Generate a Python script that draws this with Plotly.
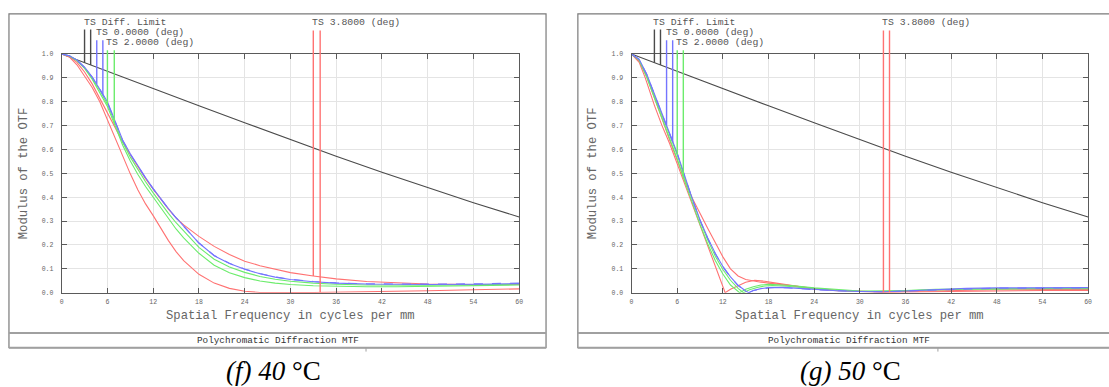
import numpy as np
import plotly.graph_objects as go

W, H = 1109, 387

# ---------------- data ----------------
X_TICKS = [0, 6, 12, 18, 24, 30, 36, 42, 48, 54, 60]
Y_TICKS = [0.0, 0.1, 0.2, 0.3, 0.4, 0.5, 0.6, 0.7, 0.8, 0.9, 1.0]
Y_TICK_TEXT = ["0.0", "0.1", "0.2", "0.3", "0.4", "0.5", "0.6", "0.7", "0.8", "0.9", "1.0"]

# diffraction limit (same in both panels)
DIFF_X = [0, 6, 12, 18, 24, 30, 36, 42, 48, 54, 60]
DIFF_Y = [1.0, 0.927, 0.855, 0.783, 0.712, 0.641, 0.572, 0.505, 0.440, 0.377, 0.317]

# (f) 40 °C
F_FREQ = [0, 1, 2, 3, 4, 5, 6, 7, 8, 9, 10, 11, 12, 13, 14, 15, 16, 18, 20, 22, 24,
          26, 28, 30, 33, 36, 40, 44, 48, 54, 60]
F_BLUE_T = [1.0, 0.993, 0.975, 0.945, 0.905, 0.855, 0.80, 0.72, 0.64, 0.582, 0.53, 0.482,
            0.436, 0.393, 0.352, 0.314, 0.28, 0.208, 0.155, 0.122, 0.098, 0.079, 0.065,
            0.055, 0.046, 0.04, 0.036, 0.034, 0.034, 0.035, 0.038]
F_BLUE_S = [1.0, 0.993, 0.975, 0.944, 0.903, 0.853, 0.797, 0.718, 0.638, 0.58, 0.528, 0.48,
            0.435, 0.392, 0.351, 0.313, 0.279, 0.208, 0.156, 0.123, 0.099, 0.08, 0.066,
            0.056, 0.047, 0.041, 0.037, 0.036, 0.036, 0.037, 0.04]
F_GREEN_T = [1.0, 0.993, 0.974, 0.943, 0.9, 0.848, 0.79, 0.71, 0.63, 0.568, 0.515, 0.465,
             0.418, 0.373, 0.332, 0.293, 0.258, 0.19, 0.14, 0.108, 0.085, 0.068, 0.056,
             0.048, 0.04, 0.035, 0.032, 0.031, 0.031, 0.033, 0.036]
F_GREEN_S = [1.0, 0.992, 0.972, 0.94, 0.895, 0.84, 0.78, 0.70, 0.618, 0.552, 0.495, 0.445,
             0.40, 0.352, 0.308, 0.267, 0.23, 0.165, 0.115, 0.083, 0.063, 0.049, 0.04,
             0.034, 0.029, 0.026, 0.025, 0.025, 0.026, 0.029, 0.032]
F_RED_T = [1.0, 0.99, 0.965, 0.925, 0.875, 0.815, 0.75, 0.69, 0.632, 0.578, 0.526, 0.478,
           0.434, 0.39, 0.35, 0.313, 0.284, 0.236, 0.194, 0.16, 0.132, 0.113, 0.097,
           0.084, 0.07, 0.058, 0.047, 0.04, 0.036, 0.034, 0.034]
F_RED_S = [1.0, 0.988, 0.955, 0.91, 0.86, 0.8, 0.725, 0.648, 0.572, 0.498, 0.43, 0.372,
           0.323, 0.27, 0.218, 0.172, 0.134, 0.077, 0.04, 0.018, 0.006, 0.001, 0.0,
           0.0, 0.001, 0.002, 0.004, 0.006, 0.008, 0.012, 0.016]

# (g) 50 °C
G_BLUE_X = [0, 1, 2, 3, 4, 5, 6, 7, 8, 9, 10, 11, 12, 13, 14, 15, 15.4, 16, 17, 18, 19, 20,
            22, 24, 27, 30, 33, 36, 40, 44, 48, 54, 60]
G_BLUE_T = [1.0, 0.978, 0.915, 0.835, 0.752, 0.668, 0.585, 0.485, 0.392, 0.305, 0.23, 0.165,
            0.11, 0.066, 0.031, 0.007, 0.0, 0.009, 0.017, 0.021, 0.023, 0.022, 0.018, 0.013,
            0.008, 0.005, 0.004, 0.007, 0.013, 0.018, 0.02, 0.02, 0.021]
G_BLUE_S = [1.0, 0.978, 0.914, 0.834, 0.75, 0.666, 0.583, 0.483, 0.39, 0.303, 0.228, 0.163,
            0.108, 0.065, 0.03, 0.006, 0.0, 0.009, 0.016, 0.02, 0.022, 0.021, 0.017, 0.012,
            0.008, 0.005, 0.004, 0.007, 0.012, 0.017, 0.019, 0.019, 0.02]
G_GREEN_T_X = [0, 1, 2, 3, 4, 5, 6, 7, 8, 9, 10, 11, 12, 13, 14, 14.7, 15.5, 16.5, 17.5,
               18.5, 20, 22, 24, 27, 30, 33, 36, 40, 44, 48, 54, 60]
G_GREEN_T = [1.0, 0.976, 0.91, 0.828, 0.745, 0.66, 0.578, 0.48, 0.388, 0.3, 0.222, 0.153,
             0.097, 0.052, 0.018, 0.0, 0.012, 0.022, 0.028, 0.03, 0.028, 0.022, 0.015,
             0.009, 0.006, 0.006, 0.009, 0.014, 0.016, 0.017, 0.018, 0.018]
G_GREEN_S_X = [0, 1, 2, 3, 4, 5, 6, 7, 8, 9, 10, 11, 12, 13, 14.2, 15, 16, 17, 18, 19.5,
               21, 24, 27, 30, 33, 36, 40, 44, 48, 54, 60]
G_GREEN_S = [1.0, 0.974, 0.902, 0.818, 0.732, 0.645, 0.56, 0.465, 0.372, 0.285, 0.205,
             0.135, 0.078, 0.032, 0.0, 0.014, 0.025, 0.032, 0.035, 0.034, 0.03, 0.02, 0.012,
             0.007, 0.006, 0.009, 0.013, 0.015, 0.016, 0.017, 0.017]
G_RED_T_X = [0, 1, 2, 3, 4, 5, 6, 7, 8, 9, 10, 11, 12, 13, 14, 15, 16, 17, 18, 20, 22, 24,
             27, 30, 33, 36, 42, 48, 54, 60]
G_RED_T = [1.0, 0.97, 0.905, 0.82, 0.73, 0.64, 0.555, 0.47, 0.395, 0.33, 0.27, 0.21, 0.15,
           0.1, 0.07, 0.055, 0.048, 0.044, 0.04, 0.032, 0.024, 0.018, 0.01, 0.005, 0.003,
           0.005, 0.009, 0.012, 0.013, 0.013]
G_RED_S_X = [0, 1, 1.8, 3, 4, 5, 6, 7, 8, 9, 10, 11, 12, 12.3, 13, 14, 15, 16.2, 17.5, 19,
             21, 24, 27, 30, 33, 36, 42, 48, 54, 60]
G_RED_S = [1.0, 0.965, 0.9, 0.785, 0.70, 0.625, 0.54, 0.455, 0.37, 0.285, 0.2, 0.115, 0.03,
           0.0, 0.014, 0.03, 0.044, 0.052, 0.048, 0.04, 0.03, 0.016, 0.008, 0.004, 0.002,
           0.003, 0.006, 0.008, 0.009, 0.009]

# field-marker frequencies (T, S) per field
F_MARK_DIFF = [3.0, 3.8]
F_MARK_0 = [4.6, 5.4]
F_MARK_2 = [6.0, 6.9]
F_MARK_38 = [33.0, 33.9]
G_MARK_DIFF = [3.0, 3.8]
G_MARK_0 = [4.6, 5.4]
G_MARK_2 = [6.0, 6.8]
G_MARK_38 = [33.1, 33.9]

FIELD_LABELS = ["TS Diff. Limit", "TS 0.0000 (deg)", "TS 2.0000 (deg)", "TS 3.8000 (deg)"]
CAPTIONS = ["<i>(f) 40</i> °C", "<i>(g) 50</i> °C"]

# ---------------- styling / geometry ----------------
BLACK = "#4a4a4a"
BLUE = "#7474ff"
GREEN = "#6cec6c"
RED = "#ff7272"
MONO = "Liberation Mono, Courier New, monospace"
PLOT_TOP, PLOT_BOTTOM = 52, 295
EXT_TOP = 12
PANELS = [dict(x0=60, x1=520, frame=(7, 547), cap=273),
          dict(x0=633, x1=1092, frame=(579, 1125), cap=853)]
SCALE = PLOT_BOTTOM - PLOT_TOP          # pixels per unit modulus


def py(p):
    return 1 - p / H


def px(p):
    return p / W


def yval(p):
    # pixel row -> modulus value on the extended marker axis
    return (PLOT_BOTTOM - p) / SCALE


fig = go.Figure()

panel_data = [
    dict(curves=[(DIFF_X, DIFF_Y, BLACK, "solid"),
                 (F_FREQ, F_RED_S, RED, "solid"), (F_FREQ, F_RED_T, RED, "solid"),
                 (F_FREQ, F_GREEN_S, GREEN, "solid"), (F_FREQ, F_GREEN_T, GREEN, "solid"),
                 (F_FREQ, F_BLUE_T, BLUE, "solid"), (F_FREQ, F_BLUE_S, BLUE, "dash")],
         marks=[(F_MARK_DIFF, (DIFF_X, DIFF_Y), (DIFF_X, DIFF_Y), BLACK, 27),
                (F_MARK_0, (F_FREQ, F_BLUE_T), (F_FREQ, F_BLUE_S), BLUE, 38),
                (F_MARK_2, (F_FREQ, F_GREEN_T), (F_FREQ, F_GREEN_S), GREEN, 48),
                (F_MARK_38, (F_FREQ, F_RED_T), (F_FREQ, F_RED_S), RED, 28)]),
    dict(curves=[(DIFF_X, DIFF_Y, BLACK, "solid"),
                 (G_RED_S_X, G_RED_S, RED, "solid"), (G_RED_T_X, G_RED_T, RED, "solid"),
                 (G_GREEN_S_X, G_GREEN_S, GREEN, "solid"), (G_GREEN_T_X, G_GREEN_T, GREEN, "solid"),
                 (G_BLUE_X, G_BLUE_T, BLUE, "solid"), (G_BLUE_X, G_BLUE_S, BLUE, "dash")],
         marks=[(G_MARK_DIFF, (DIFF_X, DIFF_Y), (DIFF_X, DIFF_Y), BLACK, 27),
                (G_MARK_0, (G_BLUE_X, G_BLUE_T), (G_BLUE_X, G_BLUE_S), BLUE, 38),
                (G_MARK_2, (G_GREEN_T_X, G_GREEN_T), (G_GREEN_S_X, G_GREEN_S), GREEN, 48),
                (G_MARK_38, (G_RED_T_X, G_RED_T), (G_RED_S_X, G_RED_S), RED, 28)]),
]

label_rows = [20, 30, 40, 20]

annotations = []
shapes = []
layout_axes = {}
for i, (pan, pdat) in enumerate(zip(PANELS, panel_data)):
    xa, ya = ("x", "y") if i == 0 else ("x2", "y2")
    xe, ye = ("x3", "y3") if i == 0 else ("x4", "y4")
    for (cx, cy, col, dash) in pdat["curves"]:
        fig.add_trace(go.Scatter(x=cx, y=cy, mode="lines", xaxis=xa, yaxis=ya,
                                 line=dict(color=col, width=1.1, dash=dash),
                                 showlegend=False, hoverinfo="skip"))
    for k, (marks, tcurve, scurve, col, top_px) in enumerate(pdat["marks"]):
        for m, (cx, cy) in zip(marks, [tcurve, scurve]):
            y_end = float(np.interp(m, cx, cy))
            fig.add_trace(go.Scatter(x=[m, m], y=[y_end, yval(top_px)], mode="lines",
                                     xaxis=xe, yaxis=ye, line=dict(color=col, width=1.4),
                                     showlegend=False, hoverinfo="skip"))
        annotations.append(dict(x=marks[0] - 0.4, y=yval(label_rows[k]), xref=xe, yref=ye,
                                text=FIELD_LABELS[k], showarrow=False, xanchor="left",
                                yanchor="middle",
                                font=dict(family=MONO, size=9.8, color="#555")))
    # axes
    dom_x = [px(pan["x0"]), px(pan["x1"])]
    ax_common = dict(showline=True, linecolor="#5a5a5a", linewidth=1, mirror="ticks",
                     ticks="inside", ticklen=5, tickcolor="#5a5a5a", tickwidth=1,
                     showgrid=True, gridcolor="#e4e4e4", gridwidth=1, zeroline=False,
                     tickfont=dict(family=MONO, size=6.5, color="#666"), fixedrange=True)
    layout_axes["xaxis" if i == 0 else "xaxis2"] = dict(
        domain=dom_x, range=[0, 60], tickvals=X_TICKS, anchor=ya,
        ticklabelstandoff=3, **ax_common)
    layout_axes["yaxis" if i == 0 else "yaxis2"] = dict(
        domain=[py(PLOT_BOTTOM), py(PLOT_TOP)], range=[0, 1], tickvals=Y_TICKS,
        ticktext=Y_TICK_TEXT, anchor=xa, ticklabelstandoff=6, **ax_common)
    layout_axes["xaxis3" if i == 0 else "xaxis4"] = dict(
        domain=dom_x, range=[0, 60], anchor=ye, visible=False, fixedrange=True)
    layout_axes["yaxis3" if i == 0 else "yaxis4"] = dict(
        domain=[py(PLOT_BOTTOM), py(EXT_TOP)], range=[0, yval(EXT_TOP)], anchor=xe,
        visible=False, fixedrange=True)
    # axis titles
    annotations.append(dict(x=px((pan["x0"] + pan["x1"]) / 2), y=py(319), xref="paper",
                            yref="paper", text="Spatial Frequency in cycles per mm",
                            showarrow=False, xanchor="center", yanchor="middle",
                            font=dict(family=MONO, size=12.2, color="#666")))
    annotations.append(dict(x=px(pan["x0"] - 38), y=py((PLOT_TOP + PLOT_BOTTOM) / 2),
                            xref="paper", yref="paper", text="Modulus of the OTF",
                            textangle=-90, showarrow=False, xanchor="center",
                            yanchor="middle",
                            font=dict(family=MONO, size=12.2, color="#666")))
    fx0, fx1 = pan["frame"]
    annotations.append(dict(x=px((fx0 + fx1) / 2), y=py(343.5), xref="paper", yref="paper",
                            text="Polychromatic Diffraction MTF", showarrow=False,
                            xanchor="center", yanchor="middle",
                            font=dict(family=MONO, size=9.3, color="#333")))
    annotations.append(dict(x=px(pan["cap"]), y=py(374.5), xref="paper", yref="paper",
                            text=CAPTIONS[i], showarrow=False, xanchor="center",
                            yanchor="middle",
                            font=dict(family="Liberation Serif, Times New Roman, serif",
                                      size=27, color="#000")))
    # panel frame
    shapes.append(dict(type="rect", xref="paper", yref="paper", x0=px(fx0), x1=px(fx1),
                       y0=py(351), y1=py(11), line=dict(color="#7a7a7a", width=1.2)))
    shapes.append(dict(type="line", xref="paper", yref="paper", x0=px(fx0), x1=px(fx1),
                       y0=py(336), y1=py(336), line=dict(color="#a0a0a0", width=2)))
    shapes.append(dict(type="line", xref="paper", yref="paper", x0=px(fx0), x1=px(fx1),
                       y0=py(351), y1=py(351), line=dict(color="#a0a0a0", width=2)))
    mid = (fx0 + fx1) / 2 + 89
    shapes.append(dict(type="line", xref="paper", yref="paper", x0=px(mid), x1=px(mid),
                       y0=py(351), y1=py(355), line=dict(color="#a0a0a0", width=1)))

fig.update_layout(width=W, height=H, margin=dict(l=0, r=0, t=0, b=0),
                  paper_bgcolor="white", plot_bgcolor="rgba(0,0,0,0)", showlegend=False,
                  annotations=annotations, shapes=shapes, **layout_axes)

fig.write_html("out.html")
